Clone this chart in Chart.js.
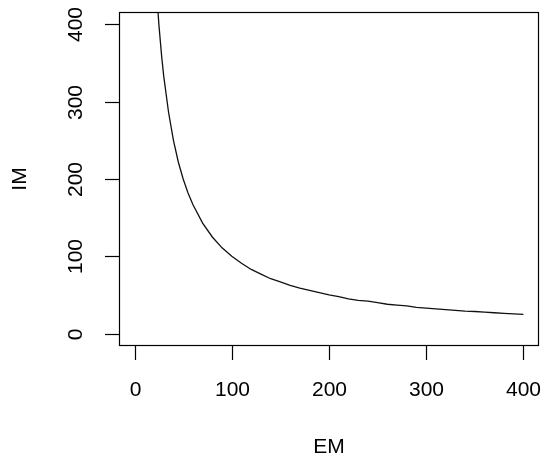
<!DOCTYPE html>
<html>
<head>
<meta charset="utf-8">
<script src="https://cdn.jsdelivr.net/npm/chart.js@4"></script>
<style>
  html, body { margin: 0; padding: 0; background: #fff; }
  #wrap { width: 544px; height: 461px; }
</style>
</head>
<body>
<div id="wrap"><canvas id="imChart" width="544" height="461"></canvas></div>
<script>
// EM values and the IM
const emValues = [20, 22, 25, 28, 30, 35, 40, 45, 50, 55, 60, 70, 80, 90, 100, 110, 120, 130, 140, 150, 160, 170, 180, 190, 200,
    210, 220, 230, 240, 250, 260, 270, 280, 290, 300, 310, 320, 330, 340, 350, 360, 370, 380, 390, 400];
const imValues = [500, 455, 400, 357, 333, 286, 250, 222, 200, 182, 167, 143, 125, 111, 100, 91, 83, 77, 71, 67, 62.5, 59, 56, 53, 50,
    48, 45, 43, 42, 40, 38, 37, 36, 34, 33, 32, 31, 30, 29, 28.6, 27.8, 27, 26.3, 25.6, 25];
const xTicks = [0, 100, 200, 300, 400];
const yTicks = [0, 100, 200, 300, 400];

const points = emValues.map((em, i) => ({ x: em, y: imValues[i] }));

const FONT = "21px 'Liberation Sans', Arial, sans-serif";

// R-style box, ticks and labels
const rAxes = {
    id: "rAxes",
    afterDraw(chart) {
        const c = chart.ctx;
        const a = chart.chartArea;
        const xs = chart.scales.x;
        const ys = chart.scales.y;
        c.save();
        c.strokeStyle = "#000";
        c.lineWidth = 1.2;
        c.strokeRect(a.left + 0.5, a.top + 0.5, a.right - a.left - 1, a.bottom - a.top - 1);

        c.fillStyle = "#000";
        c.font = FONT;
        // x ticks
        c.textAlign = "center";
        c.textBaseline = "middle";
        xTicks.forEach(v => {
            const px = Math.round(xs.getPixelForValue(v)) + 0.5;
            c.beginPath();
            c.moveTo(px, a.bottom);
            c.lineTo(px, a.bottom + 14);
            c.stroke();
            c.fillText(String(v), px, a.bottom + 44);
        });
        c.fillText("EM", (a.left + a.right) / 2, a.bottom + 101);

        // y ticks
        yTicks.forEach(v => {
            const py = Math.round(ys.getPixelForValue(v)) + 0.5;
            c.beginPath();
            c.moveTo(a.left, py);
            c.lineTo(a.left - 14, py);
            c.stroke();
            c.save();
            c.translate(a.left - 43, py);
            c.rotate(-Math.PI / 2);
            c.fillText(String(v), 0, 0);
            c.restore();
        });
        c.save();
        c.translate(a.left - 99, (a.top + a.bottom) / 2);
        c.rotate(-Math.PI / 2);
        c.fillText("IM", 0, 0);
        c.restore();
        c.restore();
    }
};

new Chart(document.getElementById("imChart").getContext("2d"), {
    type: "scatter",
    data: {
        datasets: [{
            data: points,
            showLine: true,
            borderColor: "#111",
            borderWidth: 1.3,
            pointRadius: 0,
            tension: 0
        }]
    },
    options: {
        responsive: false,
        animation: false,
        layout: { padding: { left: 119, top: 12, right: 5, bottom: 115 } },
        plugins: { legend: { display: false }, tooltip: { enabled: false } },
        scales: {
            x: { type: "linear", min: -16, max: 416, display: false },
            y: { type: "linear", min: -16, max: 416, display: false }
        }
    },
    plugins: [rAxes]
});
</script>
</body>
</html>
